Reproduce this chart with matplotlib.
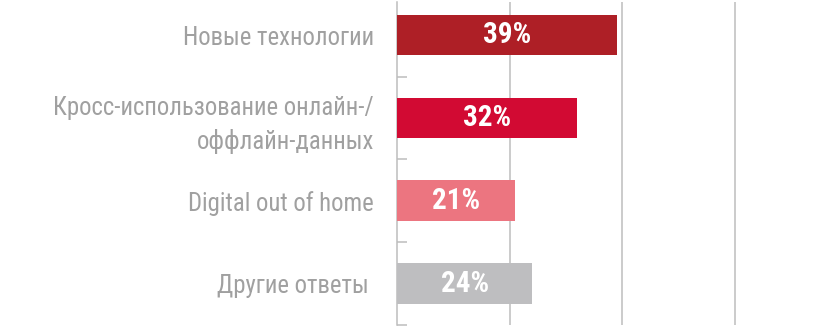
import matplotlib.pyplot as plt
from matplotlib.ticker import FixedLocator

categories = ["Новые технологии",
              "Кросс-использование онлайн-/\nоффлайн-данных",
              "Digital out of home",
              "Другие ответы "]
values = [39, 32, 21, 24]
labels = ["39%", "32%", "21%", "24%"]
colors = ["#AE1F26", "#D20A33", "#EC7580", "#BEBEC0"]

plt.rcParams['font.family'] = ['Roboto Condensed', 'DejaVu Sans']

fig = plt.figure(figsize=(8.24, 3.35), dpi=100)
ax = fig.add_axes([397 / 824, 10 / 335, 1 - 397 / 824, 323 / 335])

pos = list(range(len(categories)))
ax.barh(pos, values, height=0.49, color=colors, zorder=3)

for p, v, t in zip(pos, values, labels):
    ax.text(v / 2, p, t, ha='center', va='center', color='white',
            fontsize=21, fontweight='bold', zorder=4)

ax.set_xlim(0, 75.8)
ax.set_ylim(3.5, -0.4)

ax.set_xticks([20, 40, 60])
ax.xaxis.grid(True, color='#BDBDBD', linewidth=1.1)
ax.set_axisbelow(True)
ax.tick_params(axis='x', length=0, labelbottom=False)

ax.set_yticks(pos)
ax.set_yticklabels(categories, fontsize=17.8, color='#A0A0A0',
                   linespacing=1.45)
ax.tick_params(axis='y', which='major', length=0, pad=16.5)
ax.yaxis.set_minor_locator(FixedLocator([0.5, 1.5, 2.5, 3.5]))
ax.tick_params(axis='y', which='minor', direction='in', length=7.5,
               color='#BDBDBD', width=1.1)

for s in ['top', 'right', 'bottom']:
    ax.spines[s].set_visible(False)
ax.spines['left'].set_color('#BDBDBD')
ax.spines['left'].set_linewidth(1.1)

fig.savefig("out.png", dpi=100)
